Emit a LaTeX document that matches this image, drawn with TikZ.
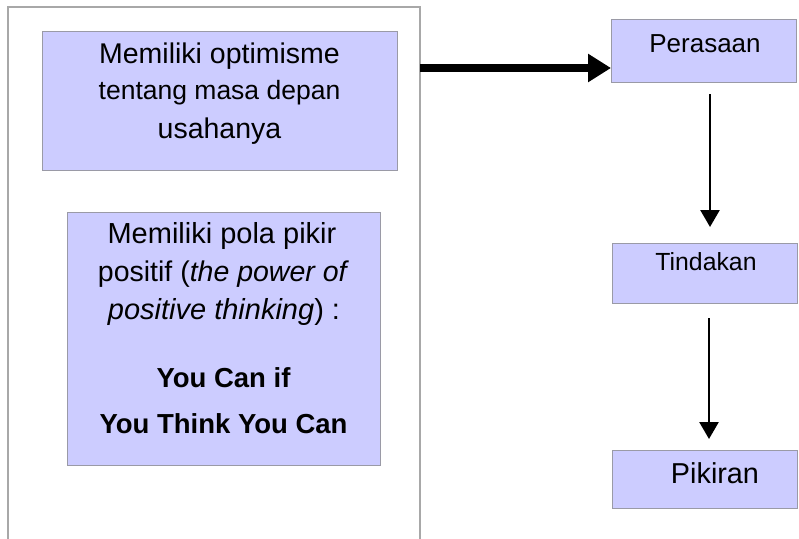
\documentclass[tikz,border=0pt]{standalone}
\usepackage{fontspec}
\setmainfont{Liberation Sans}
\usetikzlibrary{arrows.meta}
\definecolor{boxfill}{HTML}{CCCCFF}
\definecolor{boxborder}{HTML}{9A9AA6}
\definecolor{framegray}{HTML}{A8A8A8}
\newcommand{\fs}[1]{\fontsize{#1}{#1}\selectfont}
\begin{document}
\begin{tikzpicture}[x=1pt,y=-1pt,
  boxst/.style={draw=boxborder, fill=boxfill, line width=1.3pt, inner sep=0pt, anchor=north west},
  txt/.style={anchor=base, inner sep=0pt},
  thinarrow/.style={line width=2.6pt, -{Triangle[length=17pt,width=19pt]}},
  thickarrow/.style={line width=8pt, -{Triangle[length=23pt,width=27pt]}}
]
\useasboundingbox (0,0) rectangle (799,538);
% outer frame (open at the bottom)
\draw[framegray, line width=1.5pt] (8,540) -- (8,7) -- (420,7) -- (420,540);
\coordinate (frameR) at (420,68);
% left boxes
\node[boxst, minimum width=355pt, minimum height=139pt] (b1) at (42,31) {};
\node[boxst, minimum width=313pt, minimum height=253pt] (b2) at (67,212) {};
% right boxes
\node[boxst, minimum width=185pt, minimum height=63pt] (per) at (611,19) {};
\node[boxst, minimum width=185pt, minimum height=60pt] (tin) at (612,243) {};
\node[boxst, minimum width=185pt, minimum height=58pt] (pik) at (612,450) {};
% texts box 1
\node[txt, font=\fs{28.5}] (t1a) at (219.5,63) {Memiliki optimisme};
\node[txt, font=\fs{26.5}] (t1b) at (219.5,99) {tentang masa depan};
\node[txt, font=\fs{28.5}] (t1c) at (219.5,138) {usahanya};
% texts box 2
\node[txt, font=\fs{29}] (t2a) at (222,243) {Memiliki pola pikir};
\node[txt, font=\fs{28.5}] (t2b) at (223.5,281) {positif (\textit{the power of}};
\node[txt, font=\fs{29}] (t2c) at (224,319) {\textit{positive thinking}) :};
\node[txt, font=\fs{27.5}\bfseries] (t2d) at (223.5,387) {You Can if};
\node[txt, font=\fs{27.5}\bfseries] (t2e) at (223.5,433) {You Think You Can};
% texts right
\node[txt, font=\fs{26}] (tper) at (705,52) {Perasaan};
\node[txt, font=\fs{24.8}] (ttin) at (706,270) {Tindakan};
\node[txt, font=\fs{28.8}] (tpik) at (715,483) {Pikiran};
% connectors
\coordinate (colA) at (710,0);
\coordinate (colB) at (709,0);
\draw[thickarrow] (frameR) -- (frameR -| per.west);
\draw[thinarrow, shorten <=11pt, shorten >=16pt] (per.south -| colA) -- (tin.north -| colA);
\draw[thinarrow, shorten <=14pt, shorten >=11pt] (tin.south -| colB) -- (pik.north -| colB);
\end{tikzpicture}
\end{document}
